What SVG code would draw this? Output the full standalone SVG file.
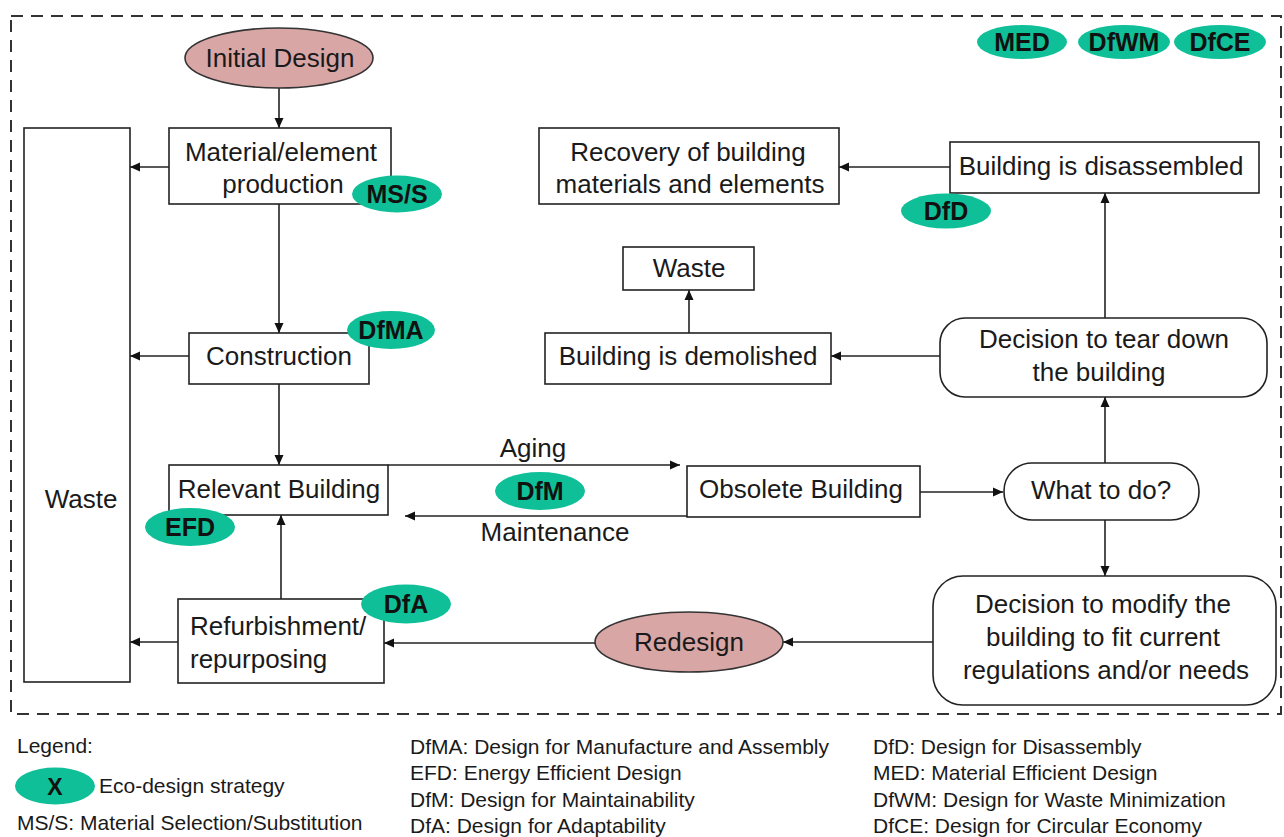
<svg xmlns="http://www.w3.org/2000/svg" width="1284" height="837" viewBox="0 0 1284 837">
<defs>
<marker id="ah" markerUnits="userSpaceOnUse" markerWidth="10" markerHeight="10" refX="10" refY="5" orient="auto">
<path d="M0,0.5 L10,5 L0,9.5 z" fill="#111"/>
</marker>
<style>
.box{fill:#fff;stroke:#222;stroke-width:1.6}
.pink{fill:#d9a6a6;stroke:#333;stroke-width:1.6}
.badge{fill:#0fbf98;stroke:none}
.t{font-family:"Liberation Sans",Arial,sans-serif;font-size:26px;fill:#1a1a1a;text-anchor:middle}
.tl{font-family:"Liberation Sans",Arial,sans-serif;font-size:26px;fill:#1a1a1a}
.b{font-family:"Liberation Sans",Arial,sans-serif;font-size:25px;font-weight:bold;fill:#111;text-anchor:middle}
.lg{font-family:"Liberation Sans",Arial,sans-serif;font-size:21px;fill:#1a1a1a}
.c{fill:none;stroke:#222;stroke-width:1.6;marker-end:url(#ah)}
</style>
</defs>
<rect x="11" y="16" width="1270" height="698" fill="none" stroke="#333" stroke-width="2" stroke-dasharray="12,8"/>

<g id="connectors">
<line class="c" x1="279" y1="88" x2="279" y2="128"/>
<line class="c" x1="169" y1="167" x2="130" y2="167"/>
<line class="c" x1="279" y1="204" x2="279" y2="333"/>
<line class="c" x1="189" y1="356" x2="130" y2="356"/>
<line class="c" x1="279" y1="384" x2="279" y2="465"/>
<line class="c" x1="388" y1="465" x2="680" y2="465"/>
<line class="c" x1="687" y1="516" x2="405" y2="516"/>
<line class="c" x1="920" y1="492" x2="1003" y2="492"/>
<line class="c" x1="1105" y1="463" x2="1105" y2="397"/>
<line class="c" x1="1105" y1="318" x2="1105" y2="193"/>
<line class="c" x1="950" y1="167" x2="839" y2="167"/>
<line class="c" x1="940" y1="356" x2="831" y2="356"/>
<line class="c" x1="689" y1="333" x2="689" y2="290"/>
<line class="c" x1="1105" y1="520" x2="1105" y2="576"/>
<line class="c" x1="933" y1="642" x2="783" y2="642"/>
<line class="c" x1="595" y1="643" x2="384" y2="643"/>
<line class="c" x1="178" y1="642" x2="130" y2="642"/>
<line class="c" x1="281" y1="599" x2="281" y2="515"/>
<text class="t" x="533" y="457">Aging</text>
<text class="t" x="555" y="541">Maintenance</text>
</g>

<g id="initial-design">
<ellipse class="pink" cx="279" cy="58" rx="94" ry="30"/>
<text class="t" x="280" y="67">Initial Design</text>
</g>
<g id="waste-main">
<rect class="box" x="24" y="128" width="106" height="554"/>
<text class="t" x="81" y="508">Waste</text>
</g>
<g id="material-production">
<rect class="box" x="169" y="128" width="222" height="76"/>
<text class="t" x="281" y="161">Material/element</text>
<text class="t" x="283" y="193">production</text>
</g>
<g id="construction">
<rect class="box" x="189" y="333" width="180" height="51"/>
<text class="t" x="279" y="365">Construction</text>
</g>
<g id="relevant-building">
<rect class="box" x="169" y="465" width="219" height="50"/>
<text class="t" x="279" y="498">Relevant Building</text>
</g>
<g id="refurbishment">
<rect class="box" x="178" y="599" width="206" height="84"/>
<text class="tl" x="190" y="635">Refurbishment/</text>
<text class="tl" x="190" y="668">repurposing</text>
</g>
<g id="redesign">
<ellipse class="pink" cx="689" cy="642" rx="94" ry="30"/>
<text class="t" x="689" y="651">Redesign</text>
</g>
<g id="obsolete-building">
<rect class="box" x="687" y="466" width="233" height="51"/>
<text class="t" x="801" y="498">Obsolete Building</text>
</g>
<g id="what-to-do">
<rect class="box" x="1004" y="463" width="195" height="57" rx="28"/>
<text class="t" x="1101" y="499">What to do?</text>
</g>
<g id="decision-modify">
<rect class="box" x="933" y="576" width="343" height="129" rx="30"/>
<text class="t" x="1103" y="613">Decision to modify the</text>
<text class="t" x="1103" y="646">building to fit current</text>
<text class="t" x="1106" y="679">regulations and/or needs</text>
</g>
<g id="decision-tear-down">
<rect class="box" x="940" y="318" width="327" height="79" rx="25"/>
<text class="t" x="1104" y="348">Decision to tear down</text>
<text class="t" x="1099" y="381">the building</text>
</g>
<g id="building-demolished">
<rect class="box" x="545" y="333" width="286" height="51"/>
<text class="t" x="688" y="365">Building is demolished</text>
</g>
<g id="waste-small">
<rect class="box" x="623" y="247" width="131" height="43"/>
<text class="t" x="689" y="277">Waste</text>
</g>
<g id="recovery">
<rect class="box" x="539" y="128" width="300" height="76"/>
<text class="t" x="688" y="161">Recovery of building</text>
<text class="t" x="690" y="193">materials and elements</text>
</g>
<g id="building-disassembled">
<rect class="box" x="950" y="142" width="309" height="51"/>
<text class="t" x="1101" y="175">Building is disassembled</text>
</g>

<g id="badge-mss"><ellipse class="badge" cx="397" cy="194" rx="45" ry="18.5"/><text class="b" x="397" y="203">MS/S</text></g>
<g id="badge-dfma"><ellipse class="badge" cx="391" cy="330" rx="44" ry="19"/><text class="b" x="391" y="339">DfMA</text></g>
<g id="badge-efd"><ellipse class="badge" cx="190" cy="527" rx="45" ry="19"/><text class="b" x="190" y="536">EFD</text></g>
<g id="badge-dfa"><ellipse class="badge" cx="406" cy="604" rx="45" ry="19.5"/><text class="b" x="406" y="613">DfA</text></g>
<g id="badge-dfm"><ellipse class="badge" cx="540" cy="491" rx="45" ry="19"/><text class="b" x="540" y="500">DfM</text></g>
<g id="badge-dfd"><ellipse class="badge" cx="946" cy="211" rx="45" ry="17.5"/><text class="b" x="946" y="220">DfD</text></g>
<g id="badge-med"><ellipse class="badge" cx="1022" cy="42" rx="45" ry="17"/><text class="b" x="1022" y="51">MED</text></g>
<g id="badge-dfwm"><ellipse class="badge" cx="1124" cy="42" rx="46" ry="17"/><text class="b" x="1124" y="51">DfWM</text></g>
<g id="badge-dfce"><ellipse class="badge" cx="1220" cy="42" rx="46" ry="17"/><text class="b" x="1220" y="51">DfCE</text></g>

<g id="legend">
<text class="lg" x="17" y="753">Legend:</text>
<ellipse class="badge" cx="55" cy="786" rx="40" ry="18.5"/>
<text class="b" x="55" y="795" style="font-size:23px">X</text>
<text class="lg" x="99" y="793">Eco-design strategy</text>
<text class="lg" x="17" y="830">MS/S: Material Selection/Substitution</text>
<text class="lg" x="410" y="754">DfMA: Design for Manufacture and Assembly</text>
<text class="lg" x="410" y="780">EFD: Energy Efficient Design</text>
<text class="lg" x="410" y="807">DfM: Design for Maintainability</text>
<text class="lg" x="410" y="833">DfA: Design for Adaptability</text>
<text class="lg" x="873" y="754">DfD: Design for Disassembly</text>
<text class="lg" x="873" y="780">MED: Material Efficient Design</text>
<text class="lg" x="873" y="807">DfWM: Design for Waste Minimization</text>
<text class="lg" x="873" y="833">DfCE: Design for Circular Economy</text>
</g>
</svg>
